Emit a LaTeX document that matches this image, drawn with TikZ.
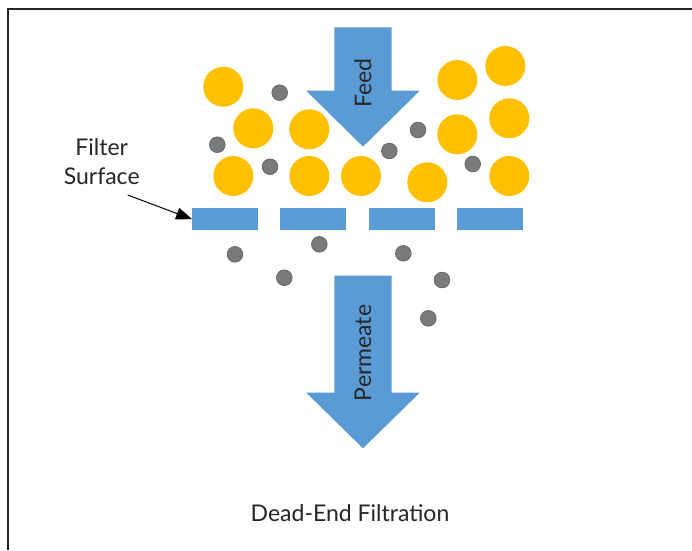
\documentclass[tikz,border=0pt]{standalone}
\usepackage{fontspec}
\setmainfont{Lato}
\usetikzlibrary{arrows.meta}
\definecolor{fblue}{HTML}{5B9BD5}
\definecolor{fyellow}{HTML}{FFC000}
\definecolor{fgray}{HTML}{7A7A7A}
\definecolor{fgrayedge}{HTML}{666666}
\tikzset{
  big/.style={fill=fyellow},
  small/.style={fill=fgray, draw=fgrayedge, line width=0.8pt},
  bar/.style={fill=fblue, minimum width=66pt, minimum height=21.7pt, inner sep=0pt, draw=none},
  flow/.style={fill=fblue},
  lbl/.style={font=\fontsize{23}{28}\selectfont, text=black!85, inner sep=0pt},
  frame/.style={draw=black!85, line width=1.2pt},
  pointer/.style={draw=black, line width=1pt, -{Triangle[length=16pt,width=12pt]}}
}
\begin{document}
\begin{tikzpicture}[x=1pt,y=-1pt]
\useasboundingbox (0,0) rectangle (692,550);
\fill[white] (0,0) rectangle (692,550);
% frame
\draw[frame] (8,550) -- (8,9) -- (692,9);
% feed arrow
\fill[flow] (334.3,27.3) -- (391.7,27.3) -- (391.7,90.7) -- (419.7,90.7) -- (363,146.7) -- (306.3,90.7) -- (334.3,90.7) -- cycle;
\node[lbl, rotate=90] (feed) at (363,83) {Feed};
% large particles
\foreach \x/\y in {223.3/86.7, 253.3/128.3, 309.3/129.3, 233.3/176, 309.3/176, 361/176, 427.3/182.3, 457.3/80, 505.3/66, 457.3/134.3, 509.3/118.3, 509.3/176}
  \fill[big] (\x,\y) circle (20pt);
% small particles above
\foreach \x/\y in {279.7/92.7, 217.3/144.7, 270/166.7, 418/130, 389.3/151, 472.7/164}
  \filldraw[small] (\x,\y) circle (7.8pt);
% filter bars
\node[bar] (b1) at (225.3,219.2) {};
\node[bar] (b2) at (313.3,219.2) {};
\node[bar] (b3) at (401.5,219.2) {};
\node[bar] (b4) at (489.5,219.2) {};
% small particles below
\foreach \x/\y in {235/254.3, 319.3/244.3, 284.3/277.7, 403.3/253.3, 442/280, 428.3/318.3}
  \filldraw[small] (\x,\y) circle (7.8pt);
% permeate arrow
\fill[flow] (334.3,275.7) -- (391.7,275.7) -- (391.7,392.7) -- (419.7,392.7) -- (363,448.3) -- (306.3,392.7) -- (334.3,392.7) -- cycle;
\node[lbl, rotate=90] (perm) at (363,353) {Permeate};
% filter surface label
\node[lbl, align=center] (fs) at (101.7,161.5) {Filter\\[1pt]Surface};
\coordinate (fsend) at (127.7,195);
\draw[pointer] (fsend) -- (b1.west);
% caption
\node[lbl] (cap) at (350,513.3) {Dead-End Filtration};
\end{tikzpicture}
\end{document}
